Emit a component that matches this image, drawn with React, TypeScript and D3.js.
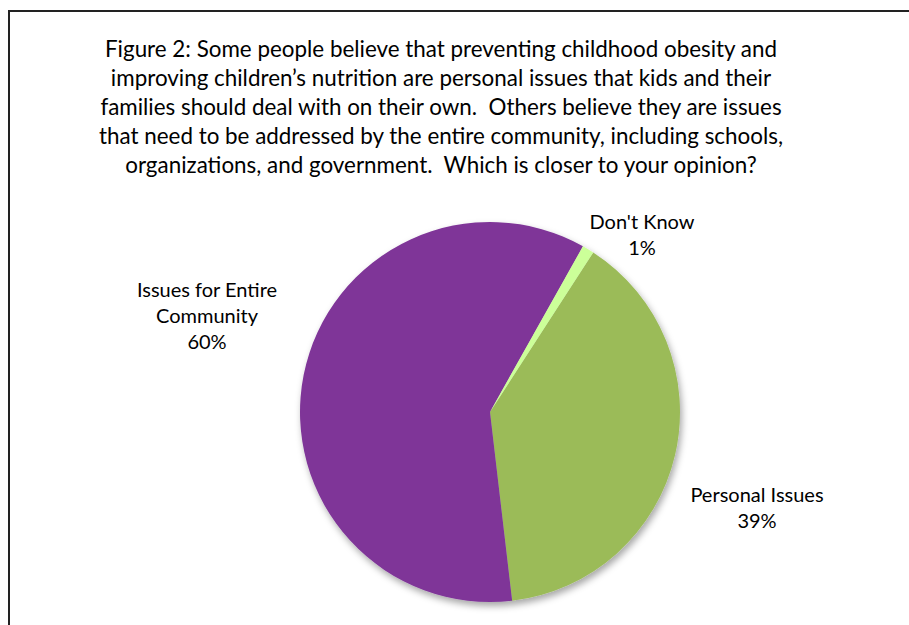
import React from "react";
import * as d3 from "d3";

const categories = ["Personal Issues", "Issues for Entire Community", "Don't Know"];
const values = [39, 60, 1];
const labelLines = [["Personal Issues", "39%"], ["Issues for Entire", "Community", "60%"], ["Don't Know", "1%"]];
const titleLines = [
  "Figure 2: Some people believe that preventing childhood obesity and",
  "improving children\u2019s nutrition are personal issues that kids and their",
  "families should deal with on their own.  Others believe they are issues",
  "that need to be addressed by the entire community, including schools,",
  "organizations, and government.  Which is closer to your opinion?",
];

const W = 909;
const H = 625;
const FONT = "Lato, 'Liberation Sans', sans-serif";
const colors = ["#9BBB59", "#7F3698", "#CCFF99"];
// label block centers (layout)
const labelCenters: Record<string, [number, number]> = {
  "Personal Issues": [757, 508],
  "Issues for Entire Community": [207, 316],
  "Don't Know": [642, 235],
};

export default function App() {
  const cx = 490;
  const cy = 412;
  const r = 190;
  const startDeg = 32.9;
  const pie = d3
    .pie<number>()
    .sort(null)
    .value((d) => d)
    .startAngle((startDeg * Math.PI) / 180)
    .endAngle((startDeg * Math.PI) / 180 + 2 * Math.PI);
  const arcs = pie(values);
  const arc = d3.arc<d3.PieArcDatum<number>>().innerRadius(0).outerRadius(r);
  const color = d3.scaleOrdinal<string, string>().domain(categories).range(colors);

  const titleSize = 22.4;
  const titleStep = 29;
  const labelSize = 20;
  const labelStep = 26;

  return (
    <svg width={W} height={H} style={{ position: "absolute", left: 0, top: 0, background: "#fff" }}>
      <defs>
        <filter id="shadow" x="-20%" y="-20%" width="140%" height="140%">
          <feDropShadow dx="2" dy="4" stdDeviation="3.5" floodColor="#000" floodOpacity="0.35" />
        </filter>
      </defs>
      <rect x={0} y={0} width={W} height={H} fill="#fff" />
      <path d={`M9,${H + 5} L9,11 L${W + 5},11`} fill="none" stroke="#222" strokeWidth={2} />
      <g fontFamily={FONT} fontSize={titleSize} fill="#000" textAnchor="middle">
        {titleLines.map((t, i) => (
          <text key={i} x={441} y={57 + i * titleStep} style={{ whiteSpace: "pre" }}>
            {t}
          </text>
        ))}
      </g>
      <g transform={`translate(${cx},${cy})`}>
        <g filter="url(#shadow)">
          {arcs.map((a, i) => (
            <path key={i} d={arc(a) || ""} fill={color(categories[i])} />
          ))}
        </g>
      </g>
      <g fontFamily={FONT} fontSize={labelSize} fill="#000" textAnchor="middle">
        {categories.map((c, i) => {
          const [lx, ly] = labelCenters[c];
          const lines = labelLines[i];
          const top = ly - ((lines.length - 1) * labelStep) / 2;
          return (
            <g key={c}>
              {lines.map((l, j) => (
                <text key={j} x={lx} y={top + j * labelStep + 7}>
                  {l}
                </text>
              ))}
            </g>
          );
        })}
      </g>
    </svg>
  );
}
